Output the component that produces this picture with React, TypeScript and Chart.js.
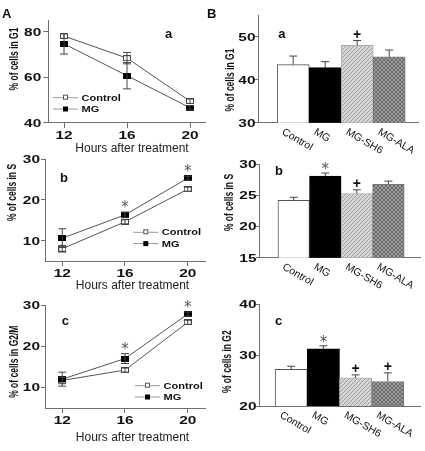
import React, { useEffect, useRef } from 'react';
import { Chart, registerables } from 'chart.js';

Chart.register(...registerables);

const PAGE_W = 425;
const PAGE_H = 451;
const FONT = '"Liberation Sans", Arial, sans-serif';
const AXIS = '#6f6f6f';
const INK = '#444';
const AX = 20; // fixed axis box size

// ---------------- data: panel A (time course) ----------------
const hours = [12, 16, 20];
const hourTicks = [12, 16, 20];

const g1Control = [78.2, 68.5, 49.6];
const g1ControlErr = [1.0, 2.5, 1.0];
const g1MG = [74.8, 60.8, 46.7];
const g1MGErr = [4.5, 5.8, 1.0];
const g1Ticks = [40, 60, 80];

const sControl = [8.0, 14.6, 22.6];
const sControlErr = [0.8, 0.5, 0.5];
const sMG = [10.6, 16.3, 25.3];
const sMGErr = [2.3, 0.7, 0.5];
const sMarks = ['', '*', '*'];
const sTicks = [10, 20, 30];

const g2mControl = [11.7, 14.2, 25.8];
const g2mControlErr = [0.8, 0.5, 0.5];
const g2mMG = [12.0, 17.0, 27.8];
const g2mMGErr = [1.7, 1.2, 0.5];
const g2mMarks = ['', '*', '*'];
const g2mTicks = [10, 20, 30];

const legendLabels = ['Control', 'MG'];

// ---------------- data: panel B (treatments) ----------------
const groups = ['Control', 'MG', 'MG-SH6', 'MG-ALA'];

const bG1 = [43.5, 42.8, 48.0, 45.3];
const bG1Err = [2.0, 1.4, 1.1, 1.6];
const bG1Marks = ['', '', '+', ''];
const bG1Ticks = [30, 40, 50];

const bS = [24.2, 28.1, 25.3, 26.8];
const bSErr = [0.5, 0.5, 0.6, 0.5];
const bSMarks = ['', '*', '+', ''];
const bSTicks = [15, 20, 25, 30];

const bG2 = [27.2, 31.2, 25.5, 24.8];
const bG2Err = [0.6, 0.6, 0.6, 1.7];
const bG2Marks = ['', '*', '+', '+'];
const bG2Ticks = [20, 30, 40];

// ---------------- layout specs ----------------
type Series = { values: number[]; errors: number[]; marks?: string[] };
interface PanelSpec {
  kind: 'line' | 'bar';
  area: { l: number; t: number; r: number; b: number };
  xRange: [number, number];
  yRange: [number, number];
  yTicks: number[];
  yTickGap: number;
  yTickLen: number;
  yTitle: string;
  yTitleAt: [number, number];
  letter: string;
  letterAt: [number, number];
  xTitleAt?: [number, number];
  legendAt?: [number, number];
  control?: Series;
  mg?: Series;
  bars?: Series;
  big?: { text: string; at: [number, number] };
}

const panels: PanelSpec[] = [
  {
    kind: 'line', area: { l: 48.25, t: 20.6, r: 205.75, b: 123 },
    xRange: [11, 21], yRange: [40, 85], yTicks: g1Ticks, yTickGap: 7, yTickLen: 5,
    yTitle: '% of cells in G1', yTitleAt: [14.5, 59],
    letter: 'a', letterAt: [165, 37.7], xTitleAt: [132, 151.5], legendAt: [53, 97.7],
    control: { values: g1Control, errors: g1ControlErr }, mg: { values: g1MG, errors: g1MGErr },
    big: { text: 'A', at: [2, 17.7] },
  },
  {
    kind: 'line', area: { l: 45, t: 159, r: 205, b: 261 },
    xRange: [10.9, 21.1], yRange: [5, 30], yTicks: sTicks, yTickGap: 5, yTickLen: 4,
    yTitle: '% of cells in S', yTitleAt: [12.5, 192.5],
    letter: 'b', letterAt: [60, 181.7], xTitleAt: [132.5, 289], legendAt: [133.3, 232.3],
    control: { values: sControl, errors: sControlErr }, mg: { values: sMG, errors: sMGErr, marks: sMarks },
  },
  {
    kind: 'line', area: { l: 45, t: 305, r: 205, b: 408 },
    xRange: [10.9, 21.1], yRange: [5, 30], yTicks: g2mTicks, yTickGap: 5, yTickLen: 4,
    yTitle: '% of cells in G2/M', yTitleAt: [14, 361.7],
    letter: 'c', letterAt: [61.7, 325], xTitleAt: [132.5, 440.7], legendAt: [135, 385.7],
    control: { values: g2mControl, errors: g2mControlErr }, mg: { values: g2mMG, errors: g2mMGErr, marks: g2mMarks },
  },
  {
    kind: 'bar', area: { l: 258, t: 15.2, r: 418, b: 122.7 },
    xRange: [-0.1, 4.9], yRange: [30, 55], yTicks: bG1Ticks, yTickGap: 2.5, yTickLen: 3,
    yTitle: '% of cells in G1', yTitleAt: [230.5, 80],
    letter: 'a', letterAt: [278.3, 37.7],
    bars: { values: bG1, errors: bG1Err, marks: bG1Marks },
    big: { text: 'B', at: [207, 17.7] },
  },
  {
    kind: 'bar', area: { l: 259, t: 164.3, r: 420, b: 257.7 },
    xRange: [-0.1, 5.0], yRange: [15, 30], yTicks: bSTicks, yTickGap: 2.5, yTickLen: 3,
    yTitle: '% of cells in S', yTitleAt: [229.5, 202.5],
    letter: 'b', letterAt: [275, 175],
    bars: { values: bS, errors: bSErr, marks: bSMarks },
  },
  {
    kind: 'bar', area: { l: 259, t: 304, r: 420, b: 406 },
    xRange: [0, 5], yRange: [20, 40], yTicks: bG2Ticks, yTickGap: 2.5, yTickLen: 3,
    yTitle: '% of cells in G2', yTitleAt: [227, 361.7],
    letter: 'c', letterAt: [275, 325],
    bars: { values: bG2, errors: bG2Err, marks: bG2Marks },
  },
];

// ---------------- helpers ----------------
type TxtOpts = { font: string; sx?: number; align?: CanvasTextAlign; base?: CanvasTextBaseline; color?: string; rot?: number };
function txt(ctx: CanvasRenderingContext2D, s: string, x: number, y: number, o: TxtOpts) {
  ctx.save();
  ctx.translate(x, y);
  if (o.sx) ctx.scale(o.sx, 1);
  if (o.rot) ctx.rotate(o.rot);
  ctx.font = o.font;
  ctx.textAlign = o.align ?? 'left';
  ctx.textBaseline = o.base ?? 'alphabetic';
  ctx.fillStyle = o.color ?? '#111';
  ctx.fillText(s, 0, 0);
  ctx.restore();
}

function markerImage(w: number, h: number, filled: boolean) {
  const c = document.createElement('canvas');
  c.width = w; c.height = h;
  const g = c.getContext('2d')!;
  if (filled) {
    g.fillStyle = '#000';
    g.fillRect(0, 0, w, h);
  } else {
    g.fillStyle = '#fff';
    g.fillRect(0, 0, w, h);
    g.strokeStyle = '#444';
    g.lineWidth = 1;
    g.strokeRect(0.5, 0.5, w - 1, h - 1);
  }
  return c;
}

function hatch(base: string, ink: string, cross: boolean) {
  const c = document.createElement('canvas');
  c.width = 4; c.height = 4;
  const g = c.getContext('2d')!;
  g.fillStyle = base; g.fillRect(0, 0, 4, 4);
  g.fillStyle = ink;
  for (let i = 0; i < 4; i++) {
    g.fillRect(i, 3 - i, 1, 1);
    if (cross) g.fillRect(i, i, 1, 1);
  }
  return g.createPattern(c, 'repeat')!;
}

function drawMark(ctx: CanvasRenderingContext2D, m: string, x: number, yc: number) {
  if (!m) return;
  if (m === '*') txt(ctx, '*', x, yc + 8, { font: '15px "DejaVu Sans", sans-serif', align: 'center', color: '#555' });
  else txt(ctx, m, x, yc + 5, { font: `bold 14px ${FONT}`, align: 'center', color: '#111' });
}

function errBar(ctx: CanvasRenderingContext2D, x: number, y1: number, y2: number, capTop: boolean, capBottom: boolean) {
  ctx.beginPath();
  ctx.moveTo(x, y1); ctx.lineTo(x, y2);
  if (capTop) { ctx.moveTo(x - 4, y2); ctx.lineTo(x + 4, y2); }
  if (capBottom) { ctx.moveTo(x - 4, y1); ctx.lineTo(x + 4, y1); }
  ctx.stroke();
}

function buildConfig(p: PanelSpec): any {
  const a = p.area;
  const panelPlugin = {
    id: 'panelTexts',
    afterDatasetsDraw(chart: any) {
      const ctx: CanvasRenderingContext2D = chart.ctx;
      const xs = chart.scales.x;
      const ys = chart.scales.y;
      ctx.save();
      ctx.strokeStyle = INK;
      ctx.lineWidth = 1;
      if (p.kind === 'line') {
        [p.control!, p.mg!].forEach((s) => {
          hours.forEach((h, i) => {
            const x = xs.getPixelForValue(h);
            errBar(ctx, x, ys.getPixelForValue(s.values[i] - s.errors[i]), ys.getPixelForValue(s.values[i] + s.errors[i]), true, true);
          });
        });
        const s = p.mg!;
        if (s.marks) hours.forEach((h, i) => drawMark(ctx, s.marks![i], xs.getPixelForValue(h), ys.getPixelForValue(s.values[i] + s.errors[i]) - 8));
      } else {
        const s = p.bars!;
        groups.forEach((g, i) => {
          const x = xs.getPixelForValue(i + 1);
          const top = ys.getPixelForValue(s.values[i] + s.errors[i]);
          errBar(ctx, x, ys.getPixelForValue(s.values[i]), top, true, false);
          if (s.marks) drawMark(ctx, s.marks[i], x, top - 7);
        });
      }
      ctx.restore();
    },
    afterDraw(chart: any) {
      const ctx: CanvasRenderingContext2D = chart.ctx;
      const xs = chart.scales.x;
      const ys = chart.scales.y;
      // y tick labels
      p.yTicks.forEach((v) => {
        txt(ctx, String(v), a.l - p.yTickLen - p.yTickGap + p.yTickLen, ys.getPixelForValue(v) + 3.9, { font: `bold 11px ${FONT}`, sx: 1.4, align: 'right' });
      });
      // y title
      txt(ctx, p.yTitle, p.yTitleAt[0], p.yTitleAt[1], { font: `bold 8.5px ${FONT}`, sx: 1.55, align: 'center', base: 'middle', rot: -Math.PI / 2 });
      // panel letter
      txt(ctx, p.letter, p.letterAt[0], p.letterAt[1], { font: `bold 13px ${FONT}` });
      if (p.big) txt(ctx, p.big.text, p.big.at[0], p.big.at[1], { font: `bold 13px ${FONT}` });
      if (p.kind === 'line') {
        hourTicks.forEach((h) => {
          txt(ctx, String(h), xs.getPixelForValue(h), a.b + 16, { font: `bold 11px ${FONT}`, sx: 1.4, align: 'center' });
        });
        txt(ctx, 'Hours after treatment', p.xTitleAt![0], p.xTitleAt![1], { font: `12px ${FONT}`, align: 'center', color: '#222' });
        // legend
        const [lx, ly] = p.legendAt!;
        legendLabels.forEach((lab, i) => {
          const y = ly + i * 11.3;
          ctx.save();
          ctx.strokeStyle = '#999';
          ctx.lineWidth = 1;
          ctx.beginPath(); ctx.moveTo(lx, y); ctx.lineTo(lx + 25, y); ctx.stroke();
          if (i === 0) {
            ctx.fillStyle = '#fff'; ctx.fillRect(lx + 10, y - 2, 5, 4);
            ctx.strokeStyle = '#555'; ctx.strokeRect(lx + 10.5, y - 2.5, 4, 4);
          } else {
            ctx.fillStyle = '#000'; ctx.fillRect(lx + 10, y - 2.5, 5, 5);
          }
          ctx.restore();
          txt(ctx, lab, lx + 28.5, y + 3, { font: `bold 8.5px ${FONT}`, sx: 1.3 });
        });
      } else {
        groups.forEach((g, i) => {
          const cx = xs.getPixelForValue(i + 1);
          txt(ctx, g, cx - 8, a.b + 4, { font: `10.5px ${FONT}`, base: 'top', rot: (30 * Math.PI) / 180, color: '#111' });
        });
      }
    },
  };

  let datasets: any[];
  if (p.kind === 'line') {
    const openSq = markerImage(8, 6, false);
    const fullSq = markerImage(8, 6, true);
    datasets = [
      { label: legendLabels[1], data: hours.map((h, i) => ({ x: h, y: p.mg!.values[i] })), pointStyle: fullSq },
      { label: legendLabels[0], data: hours.map((h, i) => ({ x: h, y: p.control!.values[i] })), pointStyle: openSq },
    ].map((d) => ({ ...d, borderColor: '#555', borderWidth: 1, pointRadius: 4, pointHoverRadius: 4, tension: 0, fill: false, showLine: true }));
  } else {
    datasets = [
      {
        label: 'cells',
        data: groups.map((g, i) => ({ x: i + 1, y: p.bars!.values[i] })),
        backgroundColor: ['#ffffff', '#000000', hatch('#d6d6d6', '#a0a0a0', false), hatch('#9c9c9c', '#6a6a6a', true)],
        borderColor: ['#555', '#000', '#aaa', '#777'],
        borderWidth: 1,
        barPercentage: 1,
        categoryPercentage: 1,
      },
    ];
  }

  const tickList = (vals: number[]) => (s: any) => { s.ticks = vals.map((v) => ({ value: v })); };

  return {
    type: p.kind,
    data: { datasets },
    options: {
      animation: false,
      responsive: false,
      maintainAspectRatio: false,
      devicePixelRatio: 1,
      events: [],
      layout: { padding: { left: a.l - AX, top: a.t, right: PAGE_W - a.r, bottom: PAGE_H - a.b - AX } },
      plugins: { legend: { display: false }, tooltip: { enabled: false }, title: { display: false } },
      scales: {
        x: {
          type: 'linear', min: p.xRange[0], max: p.xRange[1], offset: false,
          afterFit: (s: any) => { s.height = AX; },
          afterBuildTicks: tickList(p.kind === 'line' ? hourTicks : [1, 2, 3, 4]),
          ticks: { display: false },
          grid: { display: p.kind === 'line', offset: false, drawOnChartArea: false, drawTicks: true, tickLength: 5, color: AXIS },
          border: { display: true, color: AXIS, width: 1 },
        },
        y: {
          type: 'linear', min: p.yRange[0], max: p.yRange[1], beginAtZero: false,
          afterFit: (s: any) => { s.width = AX; },
          afterBuildTicks: tickList(p.yTicks),
          ticks: { display: false },
          grid: { display: true, drawOnChartArea: false, drawTicks: true, tickLength: p.yTickLen, color: AXIS },
          border: { display: true, color: AXIS, width: 1 },
        },
      },
    },
    plugins: [panelPlugin],
  };
}

function Panel({ spec }: { spec: PanelSpec }) {
  const ref = useRef<HTMLCanvasElement>(null);
  useEffect(() => {
    const chart = new Chart(ref.current!, buildConfig(spec));
    return () => chart.destroy();
  }, [spec]);
  return <canvas ref={ref} width={PAGE_W} height={PAGE_H} style={{ position: 'absolute', left: 0, top: 0 }} />;
}

export default function App() {
  return (
    <div style={{ position: 'absolute', left: 0, top: 0, width: PAGE_W, height: PAGE_H, background: '#fff', overflow: 'hidden' }}>
      {panels.map((p, i) => (
        <Panel key={i} spec={p} />
      ))}
    </div>
  );
}
